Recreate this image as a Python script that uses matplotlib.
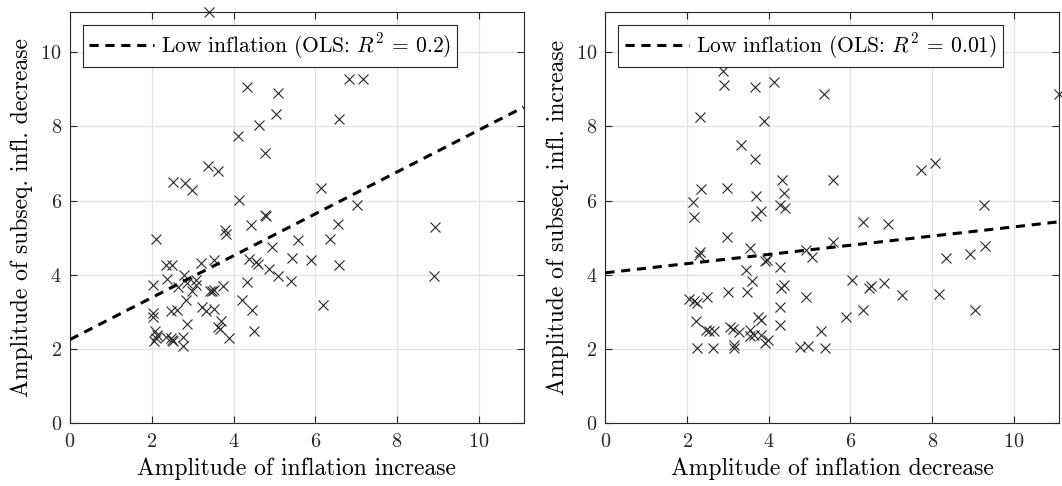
import matplotlib
matplotlib.use("Agg")
import matplotlib.pyplot as plt
import numpy as np

plt.rcParams['font.family'] = 'cmr10'
plt.rcParams['mathtext.fontset'] = 'cm'
plt.rcParams['axes.formatter.use_mathtext'] = True

# Left panel: amplitude of inflation increase vs subsequent decrease
inc_x = [3.40, 4.34, 5.08, 5.04, 4.63, 4.12, 4.77, 3.37, 3.62, 2.53, 2.82, 2.98,
         4.14, 4.76, 4.80, 4.42, 3.80, 3.82, 6.83, 7.16, 6.58, 6.15, 7.03, 6.57,
         8.93, 5.58, 6.36, 5.44, 5.90, 6.58, 5.40, 8.91, 6.18, 2.11, 4.95, 4.37,
         4.56, 4.60, 4.87, 5.09, 4.33, 4.22, 4.45, 4.49, 3.88, 2.34, 2.50, 3.20,
         3.52, 2.04, 2.36, 2.79, 2.87, 3.08, 3.09, 2.63, 2.99, 3.42, 3.47, 3.52,
         3.75, 2.83, 2.61, 2.46, 3.24, 3.32, 3.52, 2.04, 2.04, 2.86, 3.70, 3.61,
         3.67, 2.08, 2.10, 2.06, 2.12, 2.46, 2.53, 2.49, 2.34, 2.77, 2.77]
inc_y = [11.09, 9.06, 8.91, 8.34, 8.04, 7.74, 7.28, 6.93, 6.81, 6.51, 6.47, 6.29,
         6.02, 5.62, 5.59, 5.34, 5.20, 5.10, 9.27, 9.27, 8.19, 6.33, 5.88, 5.37,
         5.30, 4.94, 4.96, 4.45, 4.40, 4.27, 3.82, 3.97, 3.19, 4.96, 4.76, 4.42,
         4.33, 4.30, 4.15, 3.97, 3.81, 3.32, 3.04, 2.49, 2.29, 4.27, 4.27, 4.31,
         4.40, 3.73, 3.88, 4.00, 3.77, 3.86, 3.72, 3.68, 3.55, 3.57, 3.56, 3.58,
         3.70, 3.32, 3.05, 3.01, 3.14, 3.01, 3.07, 2.97, 2.87, 2.68, 2.74, 2.60,
         2.52, 2.47, 2.30, 2.22, 2.36, 2.30, 2.20, 2.23, 2.32, 2.32, 2.07]
inc_fit = (2.25, 0.565)   # intercept, slope
inc_r2 = '0.2'

# Right panel: amplitude of inflation decrease vs subsequent increase
dec_x = [2.89, 2.91, 3.67, 4.14, 5.35, 2.32, 3.88, 3.31, 3.67, 4.32, 5.58, 2.34,
         2.97, 3.69, 4.37, 2.14, 4.27, 4.39, 2.18, 3.69, 3.80, 11.1, 7.73, 8.06,
         9.28, 6.30, 6.91, 5.58, 9.29, 8.93, 8.34, 6.03, 6.45, 6.50, 6.81, 7.27,
         8.17, 5.88, 6.31, 9.06, 2.98, 2.32, 2.30, 3.55, 3.91, 3.96, 4.27, 3.45,
         3.59, 4.92, 5.06, 4.37, 4.31, 4.92, 4.27, 4.27, 3.01, 3.47, 2.05, 2.18,
         2.24, 2.49, 2.22, 2.47, 2.53, 2.67, 3.05, 3.12, 3.28, 3.53, 3.55, 3.73,
         3.82, 3.63, 3.82, 3.92, 3.98, 2.24, 2.63, 3.15, 3.16, 4.76, 4.96, 5.37,
         5.29]
dec_y = [9.50, 9.12, 9.07, 9.19, 8.89, 8.26, 8.16, 7.50, 7.12, 6.56, 6.56, 6.31,
         6.33, 6.13, 6.20, 5.97, 5.88, 5.80, 5.57, 5.59, 5.73, 8.88, 6.83, 7.01,
         5.88, 5.41, 5.37, 4.87, 4.78, 4.56, 4.45, 3.86, 3.64, 3.70, 3.77, 3.46,
         3.49, 2.87, 3.05, 3.04, 5.03, 4.60, 4.54, 4.73, 4.36, 4.40, 4.20, 4.13,
         3.82, 4.67, 4.47, 3.73, 3.64, 3.39, 3.13, 2.65, 3.52, 3.53, 3.34, 3.28,
         3.23, 3.41, 2.74, 2.51, 2.47, 2.47, 2.60, 2.52, 2.44, 2.51, 2.35, 2.87,
         2.77, 2.36, 2.38, 2.16, 2.23, 2.02, 2.02, 2.11, 2.02, 2.05, 2.07, 2.02,
         2.47]
dec_fit = (4.05, 0.124)
dec_r2 = '0.01'

lim = 11.1

fig = plt.figure(figsize=(10.62, 4.86), dpi=100)
ax1 = fig.add_axes([0.066, 0.13, 0.427, 0.846])
ax2 = fig.add_axes([0.570, 0.13, 0.427, 0.846])

panels = [
    (ax1, inc_x, inc_y, inc_fit, inc_r2,
     'Amplitude of inflation increase', 'Amplitude of subseq. infl. decrease'),
    (ax2, dec_x, dec_y, dec_fit, dec_r2,
     'Amplitude of inflation decrease', 'Amplitude of subseq. infl. increase'),
]

for ax, xs, ys, fit, r2, xlab, ylab in panels:
    ax.plot(xs, ys, 'x', color='#262626', markersize=7.5, markeredgewidth=0.8,
            clip_on=False, zorder=3)
    xl = np.array([0, lim])
    ax.plot(xl, fit[0] + fit[1] * xl, '--', color='black', linewidth=2.2,
            dashes=(3, 2.2), label=r'Low inflation (OLS: $R^2\,=\,%s$)' % r2,
            zorder=4)
    ax.set_xlim(0, lim)
    ax.set_ylim(0, lim)
    ax.set_xticks([0, 2, 4, 6, 8, 10])
    ax.set_yticks([0, 2, 4, 6, 8, 10])
    ax.grid(True, color='#e3e3e3', linewidth=0.9)
    ax.set_axisbelow(True)
    ax.tick_params(direction='in', top=True, right=True, length=5,
                   labelsize=14.5, colors='#262626', width=0.8)
    ax.tick_params(axis='x', pad=7)
    ax.tick_params(axis='y', pad=6)
    for s in ax.spines.values():
        s.set_color('#262626')
        s.set_linewidth(0.8)
    ax.set_xlabel(xlab, fontsize=17, labelpad=5)
    ax.set_ylabel(ylab, fontsize=17, labelpad=5)
    leg = ax.legend(loc='upper left', fontsize=15.5, handlelength=3,
                    fancybox=False, framealpha=1, edgecolor='#262626',
                    borderpad=0.3, borderaxespad=0.6, handletextpad=0.3)
    leg.get_frame().set_linewidth(0.8)

fig.savefig('out.png', dpi=100)
